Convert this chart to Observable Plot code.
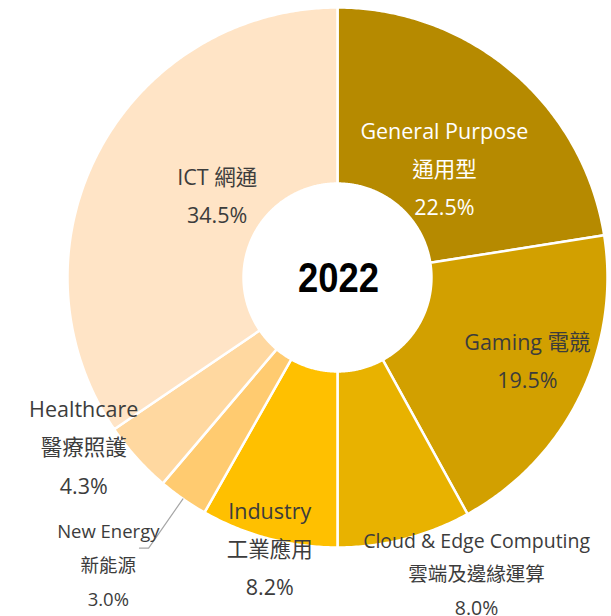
<!DOCTYPE html>
<html>
<head>
<meta charset="utf-8">
<script src="https://cdn.jsdelivr.net/npm/d3@7"></script>
<script src="https://cdn.jsdelivr.net/npm/@observablehq/plot@0.6"></script>
<style>
  html, body { margin: 0; padding: 0; background: #fff; }
  #chart svg { display: block; }
</style>
</head>
<body>
<div id="chart"></div>
<script>
// ---- data ----
const year = "2022";
const categories = ["General Purpose", "Gaming", "Cloud & Edge Computing", "Industry", "New Energy", "Healthcare", "ICT"];
const categoriesZh = ["通用型", "電競", "雲端及邊緣運算", "工業應用", "新能源", "醫療照護", "網通"];
const shares = [22.5, 19.5, 8.0, 8.2, 3.0, 4.3, 34.5];

// ---- styling / layout config ----
const colors = ["#B68A00", "#D2A000", "#E8B200", "#FFC000", "#FFCB70", "#FFD8A0", "#FFE4C6"];
const textColors = ["#ffffff", "#3c3c3c", "#3c3c3c", "#3c3c3c", "#3c3c3c", "#3c3c3c", "#3c3c3c"];
const sameLine = [false, true, false, false, false, false, true];
const fontSizes = [21.5, 21.5, 19.5, 21.5, 18.5, 21.5, 21.5];
const lineHeights = [1.77, 1.77, 1.7, 1.77, 1.83, 1.77, 1.8];
const labelAngleNudge = [4.2, -2.1, -10.6, -0.8, 3.5, 8, 6];   // degrees
const labelRadius = [0.563, 0.77, 1.219, 1.041, 1.366, 1.133, 0.537];
const leader = [false, false, false, false, true, false, false];
const innerR = 0.348;

const total = d3.sum(shares);
let acc = 0;
const slices = shares.map((v, i) => {
  const a0 = acc / total * 2 * Math.PI;
  acc += v;
  const a1 = acc / total * 2 * Math.PI;
  return {i, a0, a1, mid: (a0 + a1) / 2};
});
const px = (r, a) => r * Math.sin(a);
const py = (r, a) => r * Math.cos(a);

function ring(s) {
  const n = Math.max(4, Math.ceil((s.a1 - s.a0) * 180 / Math.PI * 2));
  const pts = [];
  for (let k = 0; k <= n; k++) {
    const a = s.a0 + (s.a1 - s.a0) * k / n;
    pts.push({x: px(1, a), y: py(1, a)});
  }
  for (let k = n; k >= 0; k--) {
    const a = s.a0 + (s.a1 - s.a0) * k / n;
    pts.push({x: px(innerR, a), y: py(innerR, a)});
  }
  return pts;
}

const sliceMarks = slices.map(s => Plot.line(ring(s), {
  x: "x", y: "y", curve: "linear-closed",
  fill: colors[s.i], stroke: "#ffffff", strokeWidth: 2.5
}));

const labels = slices.map(s => {
  const a = s.mid + labelAngleNudge[s.i] * Math.PI / 180;
  const r = labelRadius[s.i];
  const txt = sameLine[s.i]
    ? `${categories[s.i]} ${categoriesZh[s.i]}\n${shares[s.i].toFixed(1)}%`
    : `${categories[s.i]}\n${categoriesZh[s.i]}\n${shares[s.i].toFixed(1)}%`;
  return {i: s.i, x: px(r, a), y: py(r, a), txt};
});

const labelMarks = labels.map(d => Plot.text([d], {
  x: "x", y: "y", text: "txt",
  fill: textColors[d.i], fontSize: fontSizes[d.i], lineHeight: lineHeights[d.i],
  textAnchor: "middle", lineAnchor: "middle", dy: -5,
  fontFamily: "'Open Sans', 'Noto Sans CJK TC', sans-serif"
}));

const leaderLines = slices.filter(s => leader[s.i]).map(s => {
  const r2 = 1.222;
  const pts = [
    {x: px(1.0, s.mid), y: py(1.0, s.mid)},
    {x: px(r2, s.mid), y: py(r2, s.mid)},
    {x: px(r2, s.mid) - 0.034, y: py(r2, s.mid)}
  ];
  return Plot.line(pts, {x: "x", y: "y", stroke: "#A6A6A6", strokeWidth: 1.2});
});

const chart = Plot.plot({
  width: 611,
  height: 616,
  marginLeft: 67,
  marginRight: 4,
  marginTop: 7,
  marginBottom: 69,
  x: {domain: [-1, 1], axis: null},
  y: {domain: [-1, 1], axis: null},
  style: {background: "#fff", overflow: "visible"},
  marks: [
    ...sliceMarks,
    ...leaderLines,
    ...labelMarks,
    Plot.text([year], {
      x: () => 0, y: () => 0, text: d => d,
      fontSize: 43, fontWeight: "bold", fill: "#000",
      fontFamily: "'Liberation Sans Narrow', 'Arial Narrow', 'Liberation Sans', sans-serif",
      dx: 1, dy: 1
    })
  ]
});
document.getElementById("chart").appendChild(chart);

// condense the centre year label horizontally (no condensed face installed)
const yearText = [...chart.querySelectorAll("text")].find(e => e.textContent === year);
if (yearText) {
  const g = document.createElementNS("http://www.w3.org/2000/svg", "g");
  yearText.parentNode.insertBefore(g, yearText);
  g.appendChild(yearText);
  const bb2 = g.getBBox();
  const cx = bb2.x + bb2.width / 2;
  const targetW = 81;
  const s = Math.min(1, targetW / bb2.width);
  g.setAttribute("transform", `translate(${cx},0) scale(${s},1) translate(${-cx},0)`);
}
</script>
</body>
</html>
